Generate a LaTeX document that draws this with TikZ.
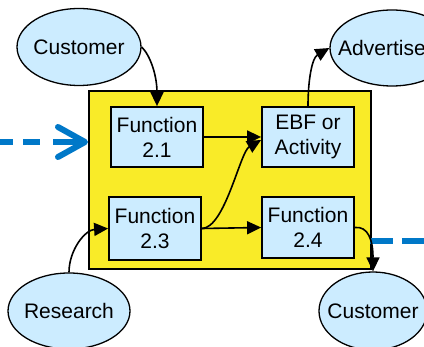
\documentclass[tikz,border=0pt]{standalone}
\usepackage{fontspec}
\setmainfont{Liberation Sans}
\usetikzlibrary{arrows.meta,shapes.geometric}
\definecolor{boxblue}{HTML}{CCECFF}
\definecolor{frameyellow}{HTML}{F9EB28}
\definecolor{flowblue}{HTML}{0078C8}

\begin{document}
\begin{tikzpicture}[x=1pt,y=-1pt,
  every node/.style={font=\fontsize{21}{25}\selectfont, align=center, inner sep=0pt},
  frame/.style={draw=black, line width=1.9pt, fill=frameyellow},
  fbox/.style={draw=black, line width=1.8pt, fill=boxblue, minimum width=92pt, minimum height=60pt},
  oval/.style={ellipse, draw=black, line width=1.3pt, fill=boxblue, minimum width=124pt, minimum height=77pt},
  link/.style={line width=1.6pt, -{Triangle[length=14pt,width=13pt]}},
  flow/.style={draw=flowblue, line width=6pt}
]
\useasboundingbox (0,0) rectangle (424,347);

% process frame and its activities
\node[frame, minimum width=282pt, minimum height=178pt] (frame) at (230,180) {};
\node[fbox] (f21) at (157,137) {Function\\2.1};
\node[fbox] (ebf) at (308,137) {EBF or\\Activity};
\node[fbox, minimum height=63pt] (f23) at (155,228.5) {Function\\2.3};
\node[fbox, minimum height=61pt] (f24) at (308,227.5) {Function\\2.4};

% external parties
\node[oval] (cust) at (79,47) {\makebox[0pt]{Customer}};
\node[oval, minimum height=76pt] (adv) at (392,48) {\makebox[0pt]{\hspace*{-20pt}Advertise}};
\node[oval, minimum width=122pt, minimum height=76pt] (res) at (69,311) {\makebox[0pt]{Research}};
\node[oval, minimum width=108pt, minimum height=78pt] (cust2) at (373,311) {\makebox[0pt]{Customer}};

% incoming and outgoing flows
\coordinate (inL) at (0,142);
\coordinate (tipL) at (85,142);
\draw[flow, dash pattern=on 13pt off 10pt on 17pt off 13pt on 40pt] (inL) -- (tipL);
\draw[flow, line cap=round, line join=round]
  ([shift={(-27,-15)}]tipL) -- (tipL) -- ([shift={(-27,15)}]tipL);
\coordinate (outR) at (424,241);
\draw[flow, dash pattern=on 23pt off 9pt] ([xshift=-2pt]frame.east |- outR) -- (outR);

% connectors
\draw[link] (cust.east) .. controls (150,55) and (157,75) .. (f21.north);
\draw[link] (f21.east) -- (ebf.west);
\draw[link] (f23.east) .. controls (225,228) and (240,152) .. ([yshift=-3pt]ebf.west);
\draw[link] (f23.east) -- (f24.west);
\draw[link] (ebf.north) .. controls (308,80) and (312,58) .. (adv.west);
\draw[link] (res.north) .. controls (69,250) and (85,230) .. (f23.west);
\draw[link] (f24.east) .. controls (368,226) and (373,240) .. (cust2.north);
\end{tikzpicture}
\end{document}
